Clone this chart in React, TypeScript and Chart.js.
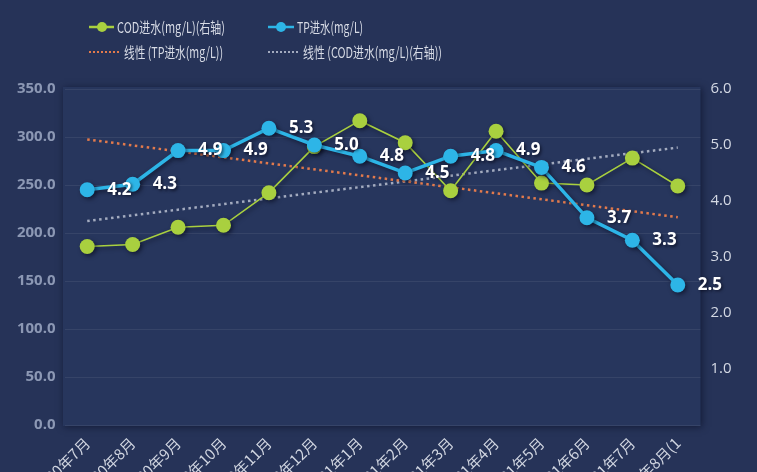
import React, { useEffect, useRef } from 'react';
import { Chart, registerables } from 'chart.js';

Chart.register(...registerables);

const categories = [
  '2020年7月', '2020年8月', '2020年9月', '2020年10月', '2020年11月', '2020年12月',
  '2021年1月', '2021年2月', '2021年3月', '2021年4月', '2021年5月', '2021年6月',
  '2021年7月', '2021年8月(1',
];
const codValues = [186, 188, 206, 208, 242, 290, 317, 294, 244, 306, 252, 250, 278, 249];
const tpValues = [4.2, 4.3, 4.9, 4.9, 5.3, 5.0, 4.8, 4.5, 4.8, 4.9, 4.6, 3.7, 3.3, 2.5];
// trend line end points (first / last category)
const tpTrendEnds = [5.1, 3.71];
const codTrendEnds = [212.5, 289];
const leftAxisRange = [0, 350, 50];
const rightAxisRange = [0, 6, 1];

const seriesLabels = [
  'COD进水(mg/L)(右轴)',
  'TP进水(mg/L)',
  '线性 (TP进水(mg/L))',
  '线性 (COD进水(mg/L)(右轴))',
];

const BG = '#263358';
const PANEL = '#27365d';
const GREEN = '#a9d03f';
const BLUE = '#2db5e7';
const ORANGE = '#e27a4c';
const GREY = '#a3abbf';
const CJK = '"Noto Sans CJK SC", "Open Sans", sans-serif';
const NUM = '"Open Sans", "Noto Sans", sans-serif';

const panelPlugin = {
  id: 'panel',
  beforeDraw(chart: any) {
    const { ctx, chartArea: a, width, height } = chart;
    ctx.save();
    ctx.fillStyle = BG;
    ctx.fillRect(0, 0, width, height);
    ctx.shadowColor = 'rgba(5, 10, 30, 0.55)';
    ctx.shadowBlur = 7;
    ctx.shadowOffsetX = 1;
    ctx.shadowOffsetY = 1;
    ctx.fillStyle = PANEL;
    ctx.fillRect(a.left - 1.5, a.top - 2, a.right - a.left + 1.5, a.bottom - a.top + 3);
    ctx.restore();
  },
};

const shadowPlugin = {
  id: 'markShadow',
  beforeDatasetDraw(chart: any, args: any) {
    if (args.index > 1) return;
    const ctx = chart.ctx;
    ctx.save();
    ctx.shadowColor = 'rgba(0, 0, 15, 0.5)';
    ctx.shadowBlur = 4;
    ctx.shadowOffsetX = 2;
    ctx.shadowOffsetY = 2;
  },
  afterDatasetDraw(chart: any, args: any) {
    if (args.index > 1) return;
    chart.ctx.restore();
  },
};

const labelPlugin = {
  id: 'tpLabels',
  afterDatasetsDraw(chart: any) {
    const ctx = chart.ctx;
    const meta = chart.getDatasetMeta(1);
    const data = chart.data.datasets[1].data as number[];
    ctx.save();
    ctx.font = `bold 17px ${NUM}`;
    ctx.fillStyle = '#ffffff';
    ctx.textAlign = 'left';
    ctx.textBaseline = 'middle';
    ctx.shadowColor = 'rgba(0, 0, 15, 0.6)';
    ctx.shadowBlur = 3;
    ctx.shadowOffsetX = 1.5;
    ctx.shadowOffsetY = 1.5;
    meta.data.forEach((p: any, i: number) => {
      ctx.fillText(data[i].toFixed(1), p.x + 20, p.y);
    });
    ctx.restore();
  },
};

const legendPlugin = {
  id: 'customLegend',
  afterDraw(chart: any) {
    const ctx = chart.ctx;
    const ds = chart.data.datasets;
    const items = [
      { i: 0, x: 89, y: 27, lineEnd: 114, dot: 102, tx: 117, tw: 108 },
      { i: 1, x: 268, y: 27, lineEnd: 294, dot: 281, tx: 297, tw: 66 },
      { i: 2, x: 89, y: 52, lineEnd: 119, dot: 0, tx: 124, tw: 99 },
      { i: 3, x: 268, y: 52, lineEnd: 298, dot: 0, tx: 303, tw: 139 },
    ];
    ctx.save();
    items.forEach((it) => {
      const d = ds[it.i];
      ctx.strokeStyle = d.borderColor;
      if (it.dot) {
        ctx.setLineDash([]);
        ctx.lineWidth = 2.5;
        ctx.beginPath();
        ctx.moveTo(it.x, it.y);
        ctx.lineTo(it.lineEnd, it.y);
        ctx.stroke();
        ctx.fillStyle = d.borderColor;
        ctx.beginPath();
        ctx.arc(it.dot, it.y, 5, 0, Math.PI * 2);
        ctx.fill();
      } else {
        ctx.setLineDash([2, 2]);
        ctx.lineWidth = 2;
        ctx.beginPath();
        ctx.moveTo(it.x, it.y);
        ctx.lineTo(it.lineEnd, it.y);
        ctx.stroke();
      }
      ctx.font = `15px ${CJK}`;
      ctx.fillStyle = '#d8dce6';
      ctx.textAlign = 'left';
      ctx.textBaseline = 'middle';
      ctx.fillText(d.label, it.tx, it.y, it.tw);
    });
    ctx.restore();
  },
};

export default function App() {
  const ref = useRef<HTMLCanvasElement | null>(null);

  useEffect(() => {
    if (!ref.current) return;
    const last = categories.length - 1;
    const chart = new Chart(ref.current, {
      type: 'line',
      data: {
        labels: categories,
        datasets: [
          {
            label: seriesLabels[0],
            data: codValues,
            yAxisID: 'yL',
            borderColor: GREEN,
            backgroundColor: GREEN,
            borderWidth: 1.6,
            pointRadius: 7.5,
            pointHoverRadius: 7.5,
            pointBackgroundColor: GREEN,
            pointBorderWidth: 0,
            order: 1,
          },
          {
            label: seriesLabels[1],
            data: tpValues,
            yAxisID: 'yR',
            borderColor: BLUE,
            backgroundColor: BLUE,
            borderWidth: 3.5,
            pointRadius: 7.5,
            pointHoverRadius: 7.5,
            pointBackgroundColor: BLUE,
            pointBorderWidth: 0,
            order: 0,
          },
          {
            label: seriesLabels[2],
            data: [
              { x: categories[0], y: tpTrendEnds[0] },
              { x: categories[last], y: tpTrendEnds[1] },
            ],
            yAxisID: 'yR',
            borderColor: ORANGE,
            backgroundColor: ORANGE,
            borderWidth: 2.5,
            borderDash: [2.5, 3.5],
            pointRadius: 0,
            order: 2,
          },
          {
            label: seriesLabels[3],
            data: [
              { x: categories[0], y: codTrendEnds[0] },
              { x: categories[last], y: codTrendEnds[1] },
            ],
            yAxisID: 'yL',
            borderColor: GREY,
            backgroundColor: GREY,
            borderWidth: 2.5,
            borderDash: [2.5, 3.5],
            pointRadius: 0,
            order: 3,
          },
        ] as any,
      },
      options: {
        animation: false,
        responsive: true,
        maintainAspectRatio: false,
        layout: { padding: { top: 89, left: 0, right: 0, bottom: 0 } },
        plugins: {
          legend: { display: false },
          tooltip: { enabled: false },
          title: { display: false },
        },
        scales: {
          x: {
            type: 'category',
            offset: true,
            grid: { display: false, drawTicks: false },
            border: { display: false },
            ticks: {
              autoSkip: false,
              maxRotation: 45,
              minRotation: 45,
              padding: 9,
              color: '#d0d5e0',
              font: { size: 15, family: CJK },
            },
            afterFit: (s: any) => { s.height = 47; },
          },
          yL: {
            type: 'linear',
            position: 'left',
            min: leftAxisRange[0],
            max: leftAxisRange[1],
            grid: { color: 'rgba(255,255,255,0.07)', drawTicks: false, lineWidth: 1 },
            border: { display: false },
            ticks: {
              stepSize: leftAxisRange[2],
              padding: 9,
              color: '#8c98b4',
              font: { size: 15, weight: 'bold', family: NUM },
              callback: (v: any) => Number(v).toFixed(1),
            },
            afterFit: (s: any) => { s.width = 64.5; },
          },
          yR: {
            type: 'linear',
            position: 'right',
            min: rightAxisRange[0],
            max: rightAxisRange[1],
            grid: { display: false, drawTicks: false },
            border: { display: false },
            ticks: {
              stepSize: rightAxisRange[2],
              padding: 10,
              color: '#d4d9e4',
              font: { size: 15, family: NUM },
              callback: (v: any) => (Number(v) === 0 ? '' : Number(v).toFixed(1)),
            },
            afterFit: (s: any) => { s.width = 56.5; },
          },
        },
      } as any,
      plugins: [panelPlugin, shadowPlugin, labelPlugin, legendPlugin],
    });
    return () => chart.destroy();
  }, []);

  return (
    <div
      style={{
        position: 'fixed',
        left: 0,
        top: 0,
        width: 757,
        height: 472,
        background: BG,
        overflow: 'hidden',
      }}
    >
      <canvas ref={ref} />
    </div>
  );
}
